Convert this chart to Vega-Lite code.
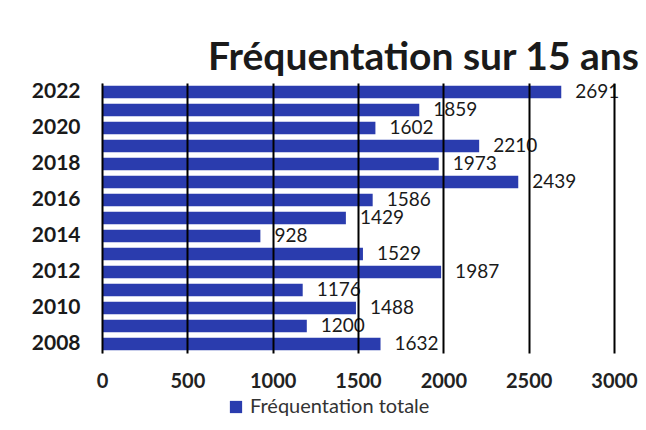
{
  "$schema": "https://vega.github.io/schema/vega-lite/v6.json",
  "autosize": {"type": "none"},
  "width": 512,
  "height": 270,
  "padding": {"left": 102, "top": 83, "right": 32, "bottom": 77},
  "background": "white",
  "title": {
    "text": "Fréquentation sur 15 ans",
    "anchor": "start",
    "frame": "group",
    "dx": 106,
    "dy": 1,
    "offset": 4,
    "font": "Lato",
    "fontSize": 39,
    "fontWeight": "bold",
    "color": "#1a1a1a"
  },
  "data": {
    "values": [
      {"annee": "2022", "valeur": 2691, "serie": "Fréquentation totale"},
      {"annee": "2021", "valeur": 1859, "serie": "Fréquentation totale"},
      {"annee": "2020", "valeur": 1602, "serie": "Fréquentation totale"},
      {"annee": "2019", "valeur": 2210, "serie": "Fréquentation totale"},
      {"annee": "2018", "valeur": 1973, "serie": "Fréquentation totale"},
      {"annee": "2017", "valeur": 2439, "serie": "Fréquentation totale"},
      {"annee": "2016", "valeur": 1586, "serie": "Fréquentation totale"},
      {"annee": "2015", "valeur": 1429, "serie": "Fréquentation totale"},
      {"annee": "2014", "valeur": 928, "serie": "Fréquentation totale"},
      {"annee": "2013", "valeur": 1529, "serie": "Fréquentation totale"},
      {"annee": "2012", "valeur": 1987, "serie": "Fréquentation totale"},
      {"annee": "2011", "valeur": 1176, "serie": "Fréquentation totale"},
      {"annee": "2010", "valeur": 1488, "serie": "Fréquentation totale"},
      {"annee": "2009", "valeur": 1200, "serie": "Fréquentation totale"},
      {"annee": "2008", "valeur": 1632, "serie": "Fréquentation totale"}
    ]
  },
  "encoding": {
    "y": {
      "field": "annee",
      "type": "ordinal",
      "sort": "descending",
      "scale": {"paddingInner": 0.3, "paddingOuter": 0.15},
      "axis": {
        "title": null,
        "labelExpr": "toNumber(datum.value) % 2 == 0 ? datum.value : ''",
        "labelFont": "Lato",
        "labelFontSize": 21,
        "labelFontWeight": "bold",
        "labelColor": "#1a1a1a",
        "labelPadding": 22,
        "ticks": false,
        "domain": true,
        "domainColor": "#aaaaaa",
        "domainWidth": 1,
        "grid": false
      }
    },
    "x": {
      "field": "valeur",
      "type": "quantitative",
      "scale": {"domain": [0, 3000], "nice": false},
      "axis": {
        "title": null,
        "values": [0, 500, 1000, 1500, 2000, 2500, 3000],
        "format": "d",
        "labelFont": "Lato",
        "labelFontSize": 20,
        "labelFontWeight": "bold",
        "labelColor": "#222222",
        "labelPadding": 18,
        "labelFlush": false,
        "ticks": false,
        "domain": false,
        "grid": true,
        "gridColor": "#000000",
        "gridWidth": 2,
        "gridOpacity": 1,
        "zindex": 1
      }
    }
  },
  "layer": [
    {
      "mark": {"type": "bar", "color": "#2a3cae"},
      "encoding": {
        "color": {
          "field": "serie",
          "type": "nominal",
          "scale": {"range": ["#2a3cae"]},
          "legend": {
            "title": null,
            "orient": "none",
            "legendX": 124,
            "legendY": 314,
            "symbolType": "square",
            "symbolSize": 150,
            "symbolOpacity": 1,
            "labelFont": "Lato",
            "labelFontSize": 20,
            "labelColor": "#333333",
            "labelOffset": 4,
            "labelLimit": 0
          }
        }
      }
    },
    {
      "mark": {
        "type": "text",
        "align": "left",
        "baseline": "middle",
        "dx": 14,
        "font": "Lato",
        "fontSize": 19,
        "color": "#1a1a1a"
      },
      "encoding": {
        "text": {"field": "valeur", "type": "quantitative", "format": "d"}
      }
    }
  ],
  "config": {"view": {"stroke": null}}
}
